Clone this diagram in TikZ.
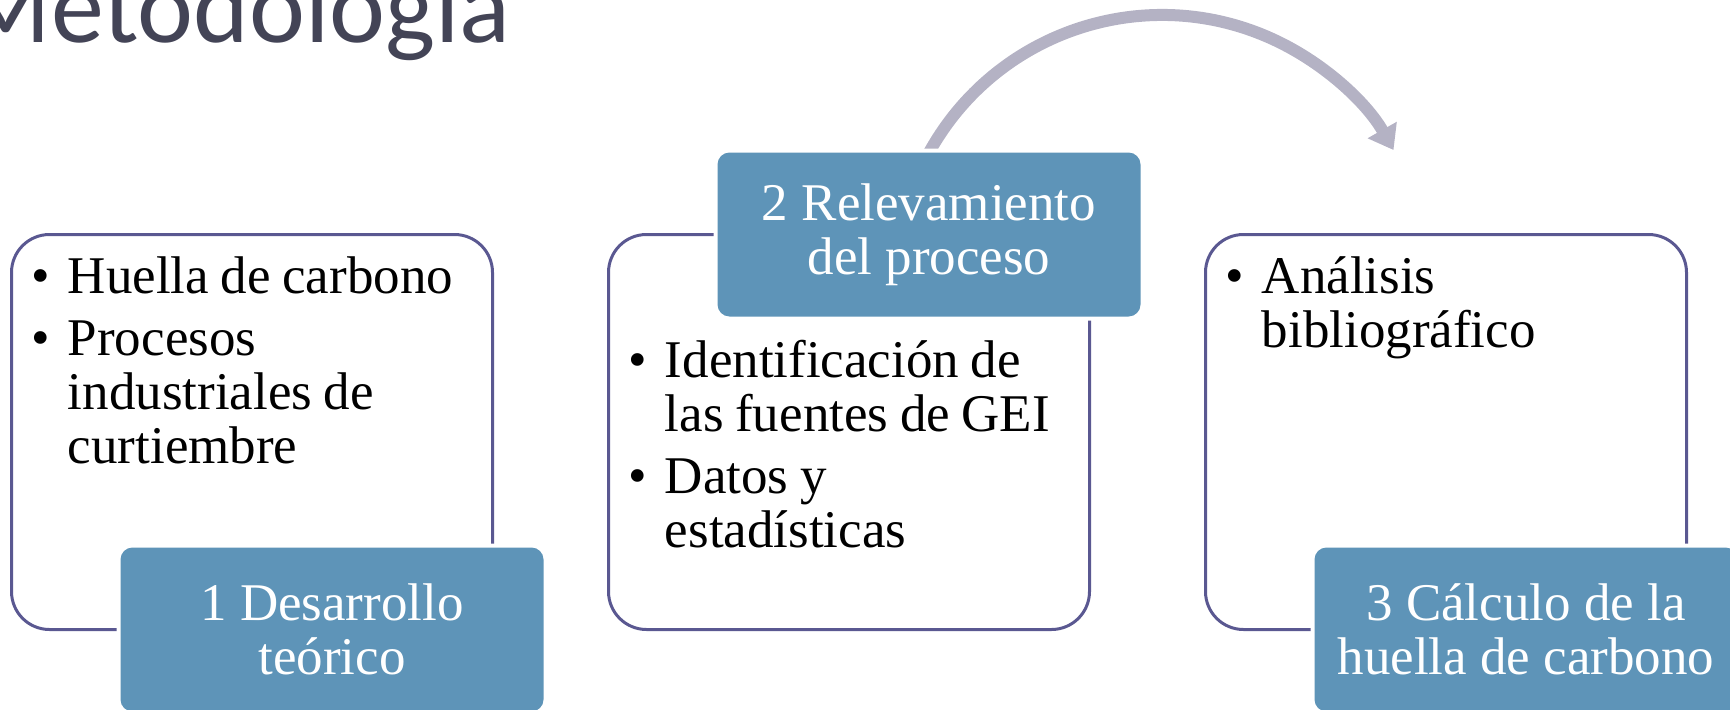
\documentclass[tikz,border=0pt]{standalone}
\usepackage{fontspec}
\setmainfont{Liberation Serif}
\newfontfamily\titulofont{Carlito}
\usepackage{tikz}
\usetikzlibrary{positioning, arrows.meta}

\definecolor{borde}{RGB}{90,88,145}
\definecolor{azul}{RGB}{94,148,184}
\definecolor{grisflecha}{RGB}{180,178,196}
\definecolor{gristitulo}{RGB}{67,68,86}

\newcommand{\vineta}{\leavevmode\llap{\textbullet\hspace{9pt}}}
\newcommand{\listado}{\leftskip=28pt\parfillskip=0pt plus 1fil\spaceskip=5.8pt plus 1pt minus 1pt\relax}

\tikzset{
  caja/.style={draw=borde, line width=1.5pt, rounded corners=19pt, minimum width=240.5pt, minimum height=197.5pt, outer sep=0pt},
  paso/.style={fill=azul, text=white, rounded corners=6pt, minimum width=211.5pt, minimum height=82pt, align=center, inner sep=0pt, outer sep=0pt, font=\fontsize{26.5}{27}\selectfont, preaction={draw=white, line width=4pt}},
  lista/.style={text width=235pt, inner sep=0pt, anchor=base west, font=\fontsize{26.5}{27}\selectfont},
  flecha/.style={draw=grisflecha, line width=6pt, -{Triangle[length=11.5pt, width=16pt]}}
}

\begin{document}
\begin{tikzpicture}[x=0.5pt, y=0.5pt]
\useasboundingbox (0,0) rectangle (1730,709);
\clip (0,0) rectangle (1730,709);

\node[anchor=base west, inner sep=0pt, text=gristitulo, font=\titulofont\fontsize{53}{60}\selectfont] (titulo) at (-40,667) {Metodología};

\coordinate (giro) at (1162,428);
\draw[flecha] ([shift={(153:266)}]giro) arc[start angle=153, end angle=29.5, radius=266];

\node[caja] (caja1) at (252,277) {};
\node[caja, right=58pt of caja1] (caja2) {};
\node[caja, right=58pt of caja2] (caja3) {};

\node[paso] (paso1) at ([xshift=40pt]caja1.south) {1 Desarrollo\\teórico};
\node[paso] (paso2) at ([xshift=40pt]caja2.north) {2 Relevamiento\\del proceso};
\node[paso] (paso3) at ([xshift=40pt]caja3.south) {3 Cálculo de la\\huella de carbono};

\node[lista] (lista1) at ([yshift=-29.5pt]caja1.north west) {\listado
  \vineta Huella de carbono\par\vspace{4pt}
  \vineta Procesos\\industriales de\\curtiembre\par};
\node[lista] (lista2) at ([yshift=-71.5pt]caja2.north west) {\listado
  \vineta Identificación de\\las fuentes de GEI\par\vspace{4pt}
  \vineta Datos y\\estadísticas\par};
\node[lista] (lista3) at ([yshift=-29.5pt]caja3.north west) {\listado
  \vineta Análisis\\bibliográfico\par};
\end{tikzpicture}
\end{document}
